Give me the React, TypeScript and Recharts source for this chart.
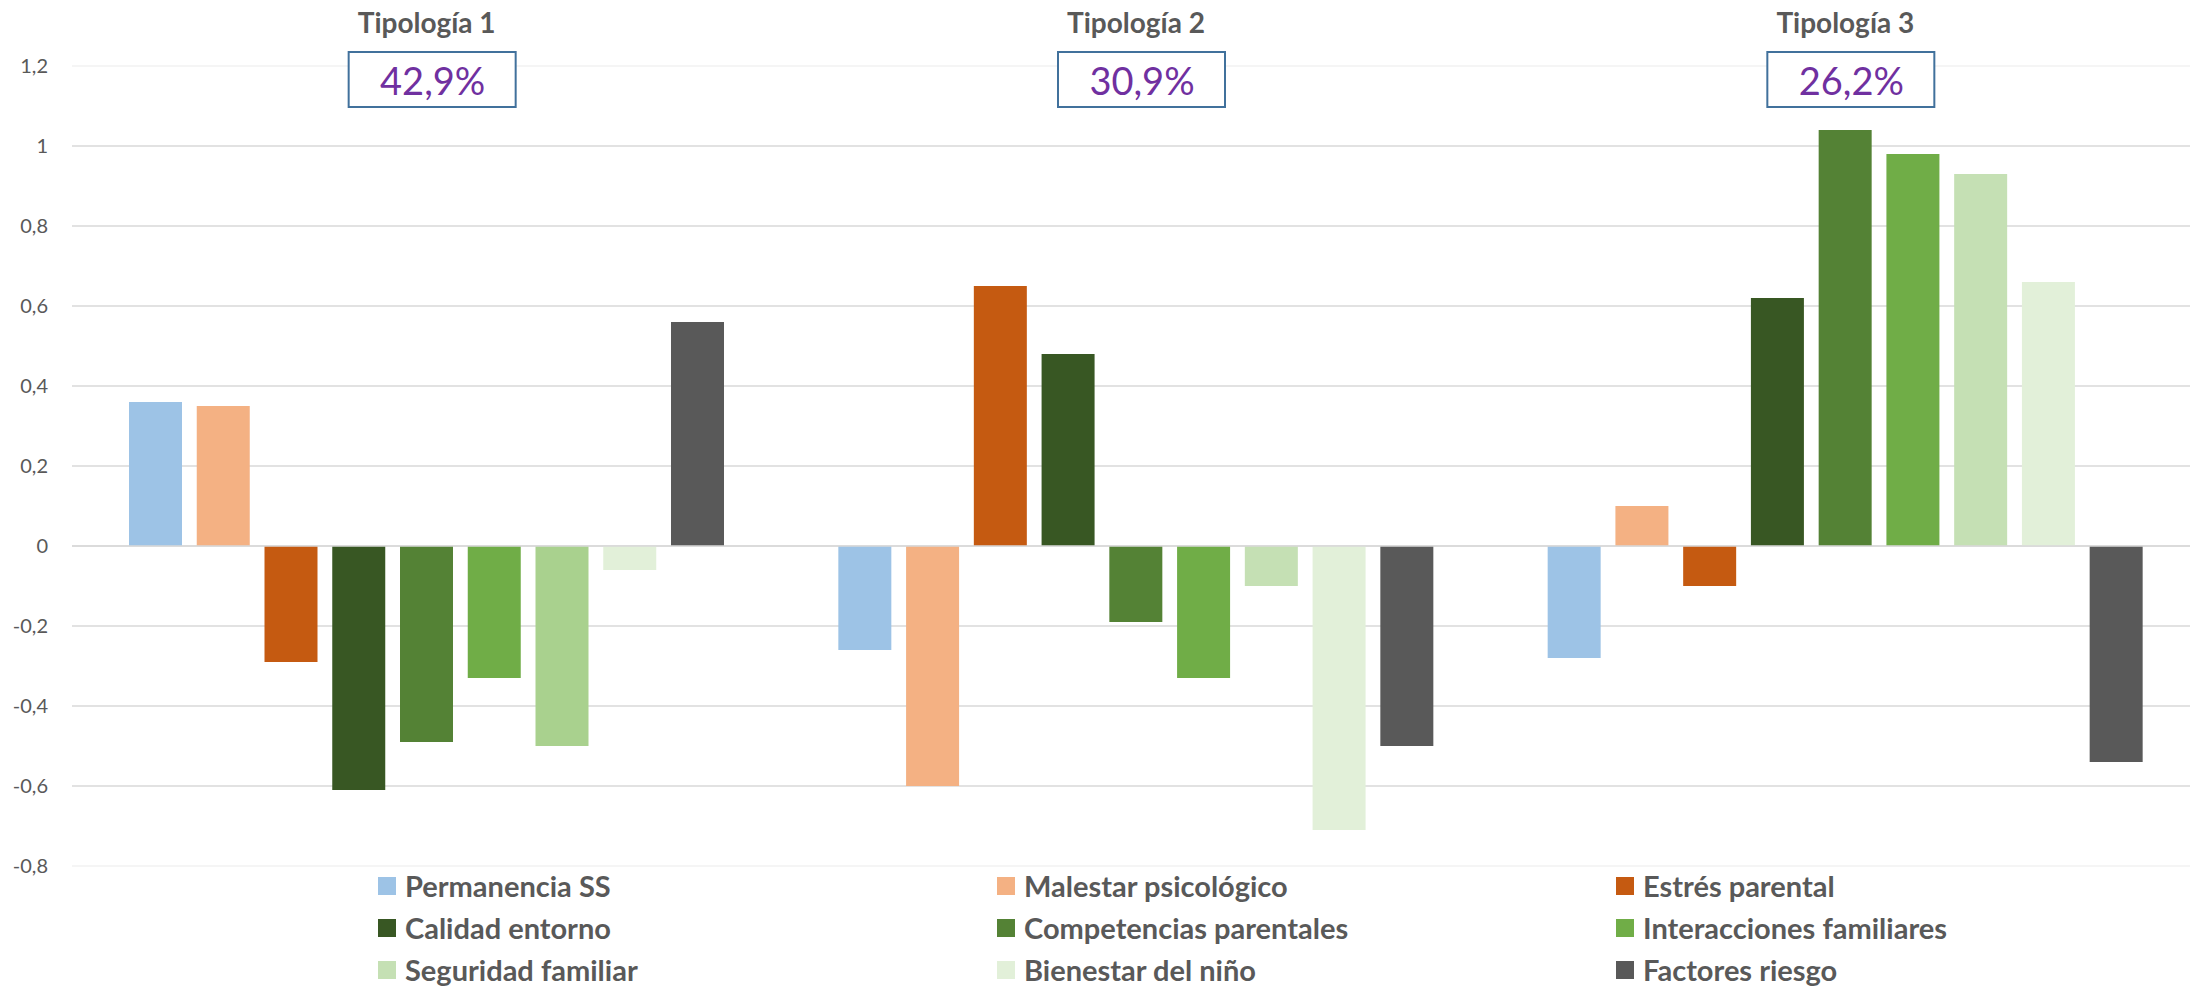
import React from "react";
import { BarChart, Bar, XAxis, YAxis, CartesianGrid, ReferenceLine, Cell } from "recharts";

const FONT = "Lato, 'Open Sans', sans-serif";
const TEXT = "#595959";

// categories + their share of the sample
const tipologias = ["Tipología 1", "Tipología 2", "Tipología 3"];
const shares = [42.9, 30.9, 26.2];

// one array per factor, in the order of tipologias
const permanencia = [0.36, -0.26, -0.28];
const malestar = [0.35, -0.6, 0.1];
const estres = [-0.29, 0.65, -0.1];
const calidad = [-0.61, 0.48, 0.62];
const competencias = [-0.49, -0.19, 1.04];
const interacciones = [-0.33, -0.33, 0.98];
const seguridad = [-0.5, -0.1, 0.93];
const bienestar = [-0.06, -0.71, 0.66];
const factores = [0.56, -0.5, -0.54];

const yTicks = [-0.8, -0.6, -0.4, -0.2, 0, 0.2, 0.4, 0.6, 0.8, 1, 1.2];
const gridValues = [-0.6, -0.4, -0.2, 0, 0.2, 0.4, 0.6, 0.8, 1];

const series = [
  { key: "permanencia", name: "Permanencia SS", values: permanencia, color: "#9dc3e6" },
  { key: "malestar", name: "Malestar psicológico", values: malestar, color: "#f4b183" },
  { key: "estres", name: "Estrés parental", values: estres, color: "#c55a11" },
  { key: "calidad", name: "Calidad entorno", values: calidad, color: "#385723" },
  { key: "competencias", name: "Competencias parentales", values: competencias, color: "#548235" },
  { key: "interacciones", name: "Interacciones familiares", values: interacciones, color: "#70ad47" },
  { key: "seguridad", name: "Seguridad familiar", values: seguridad, color: "#c5e0b4" },
  { key: "bienestar", name: "Bienestar del niño", values: bienestar, color: "#e2f0d9" },
  { key: "factores", name: "Factores riesgo", values: factores, color: "#595959" },
];

// the first tipología draws "Seguridad familiar" a shade darker
const cellColors: Record<string, string[]> = {
  seguridad: ["#a9d18e", "#c5e0b4", "#c5e0b4"],
};

const data = tipologias.map((t, i) => {
  const row: Record<string, string | number> = { name: t };
  series.forEach((s) => (row[s.key] = s.values[i]));
  return row;
});

const fmt = (v: number) => String(v).replace(".", ",");

function TopTick(props: any) {
  const { x, payload } = props;
  const share = shares[payload.index];
  return (
    <g>
      <text x={x} y={33} textAnchor="middle" fontFamily={FONT} fontWeight={700} fontSize={28} fill={TEXT}>
        {payload.value}
      </text>
      <rect x={x - 78} y={52} width={167} height={55} fill="#fff" stroke="#41719c" strokeWidth={2} />
      <text x={x + 6} y={95} textAnchor="middle" fontFamily={FONT} fontSize={38} fill="#7030a0">
        {fmt(share)}%
      </text>
    </g>
  );
}

export default function App() {
  return (
    <div style={{ position: "absolute", left: 0, top: 0, width: 2190, height: 989, overflow: "hidden", background: "#fff" }}>
      <BarChart
        width={2200}
        height={989}
        data={data}
        margin={{ top: 0, right: 0, bottom: 123, left: 0 }}
        barSize={53}
        barGap={14.75}
      >
        <CartesianGrid vertical={false} horizontalValues={gridValues} stroke="#d9d9d9" strokeWidth={1.5} />
        <ReferenceLine y={1.2} stroke="#f2f2f2" strokeWidth={1.5} />
        <ReferenceLine y={-0.8} stroke="#f2f2f2" strokeWidth={1.5} />
        <XAxis
          dataKey="name"
          orientation="top"
          height={66}
          axisLine={false}
          tickLine={false}
          interval={0}
          tick={<TopTick />}
        />
        <YAxis
          width={72}
          domain={[-0.8, 1.2]}
          ticks={yTicks}
          interval={0}
          axisLine={false}
          tickLine={false}
          tickSize={0}
          tickMargin={24}
          tickFormatter={fmt}
          tick={{ fill: TEXT, fontSize: 20, fontFamily: FONT }}
        />
        {series.map((s) => (
          <Bar key={s.key} dataKey={s.key} name={s.name} fill={s.color} isAnimationActive={false}>
            {cellColors[s.key] &&
              data.map((_, i) => <Cell key={i} fill={cellColors[s.key][i]} />)}
          </Bar>
        ))}
        <ReferenceLine y={0} stroke="#d9d9d9" strokeWidth={1.5} />
      </BarChart>
      <div
        style={{
          position: "absolute",
          left: 378,
          top: 865,
          display: "grid",
          gridTemplateColumns: "619px 619px 619px",
          gridAutoRows: "42.2px",
          fontFamily: FONT,
          fontWeight: 700,
          fontSize: 29,
          lineHeight: "36px",
          color: TEXT,
        }}
      >
        {series.map((s) => (
          <div key={s.key} style={{ display: "flex", alignItems: "center", whiteSpace: "nowrap" }}>
            <span style={{ width: 18, height: 18, background: s.color, marginRight: 9, flex: "none" }} />
            <span>{s.name}</span>
          </div>
        ))}
      </div>
    </div>
  );
}
